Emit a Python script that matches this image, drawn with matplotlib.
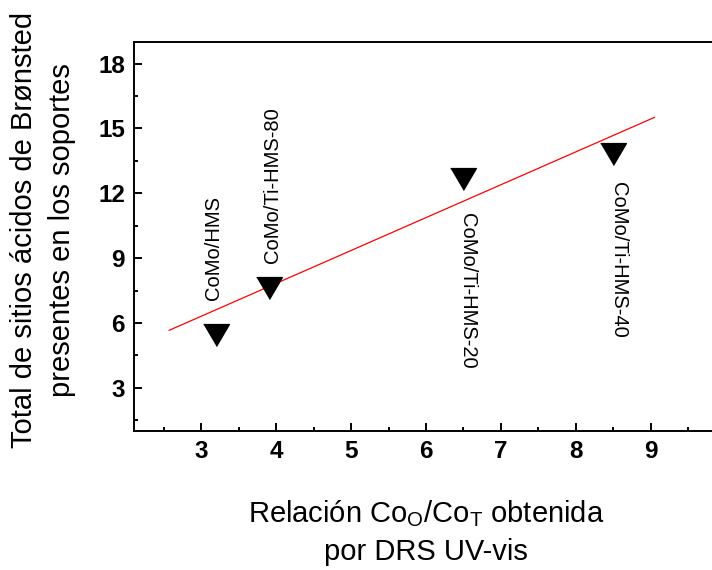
import matplotlib
matplotlib.use("Agg")
import matplotlib.pyplot as plt
from matplotlib.ticker import MultipleLocator

plt.rcParams['font.family'] = ['Liberation Sans', 'DejaVu Sans']
plt.rcParams['mathtext.fontset'] = 'custom'
plt.rcParams['mathtext.rm'] = 'Liberation Sans'
plt.rcParams['mathtext.it'] = 'Liberation Sans:italic'

# Co_O/Co_T ratio (DRS UV-vis) vs. total Brønsted acid sites
samples = ["CoMo/HMS", "CoMo/Ti-HMS-80", "CoMo/Ti-HMS-20", "CoMo/Ti-HMS-40"]
ratio_co = [3.2, 3.9, 6.5, 8.5]
bronsted_sites = [5.45, 7.6, 12.65, 13.8]

# linear trend line end points
trend_x = [2.57, 9.05]
trend_y = [5.66, 15.51]

# sample label anchors (x, y, rotation)
label_x = [3.16, 3.95, 6.55, 8.57]
label_y = [7.08, 8.78, 11.09, 12.52]
label_rot = [90, 90, 270, 270]

fig = plt.figure(figsize=(7.12, 5.70), dpi=100)
ax = fig.add_axes([134 / 712, 139 / 570, 584 / 712, 389 / 570])

ax.plot(trend_x, trend_y, color='red', lw=0.9, zorder=2)

tri = [(-1.0, 0.85), (1.0, 0.85), (0.0, -0.85)]
ax.plot(ratio_co, bronsted_sites, linestyle='none', marker=tri,
        markersize=18.5, color='black', zorder=3)

for name, lx, ly, rot in zip(samples, label_x, label_y, label_rot):
    ax.text(lx, ly, name, rotation=rot, ha='center',
            va='bottom' if rot == 90 else 'top', fontsize=14.5)

ax.set_xlim(2.1, 9.9)
ax.set_ylim(1, 19)
ax.xaxis.set_minor_locator(MultipleLocator(0.5))
ax.yaxis.set_minor_locator(MultipleLocator(1.5))
ax.set_xticks([3, 4, 5, 6, 7, 8, 9])
ax.set_yticks([3, 6, 9, 12, 15, 18])

ax.tick_params(which='both', direction='in', width=1.4, top=False, right=False)
ax.tick_params(which='major', length=5.5, labelsize=17.5, pad=6.5)
ax.tick_params(which='minor', length=3)
for lab in ax.get_xticklabels() + ax.get_yticklabels():
    lab.set_fontweight('bold')

for side in ['left', 'bottom', 'top']:
    ax.spines[side].set_linewidth(1.4)
ax.spines['right'].set_visible(False)

ax.set_xlabel("Relación Co$_\\mathrm{O}$/Co$_\\mathrm{T}$ obtenida\npor DRS UV-vis",
              fontsize=21, linespacing=1.45)
ax.xaxis.set_label_coords(0.5, -0.26)
ax.xaxis.label.set_verticalalignment('center')

ax.set_ylabel("Total de sitios ácidos de Brønsted\npresentes en los soportes",
              fontsize=21, linespacing=1.45)
ax.yaxis.set_label_coords(-0.156, 0.517)
ax.yaxis.label.set_verticalalignment('center')

fig.savefig("out.png", dpi=100)
